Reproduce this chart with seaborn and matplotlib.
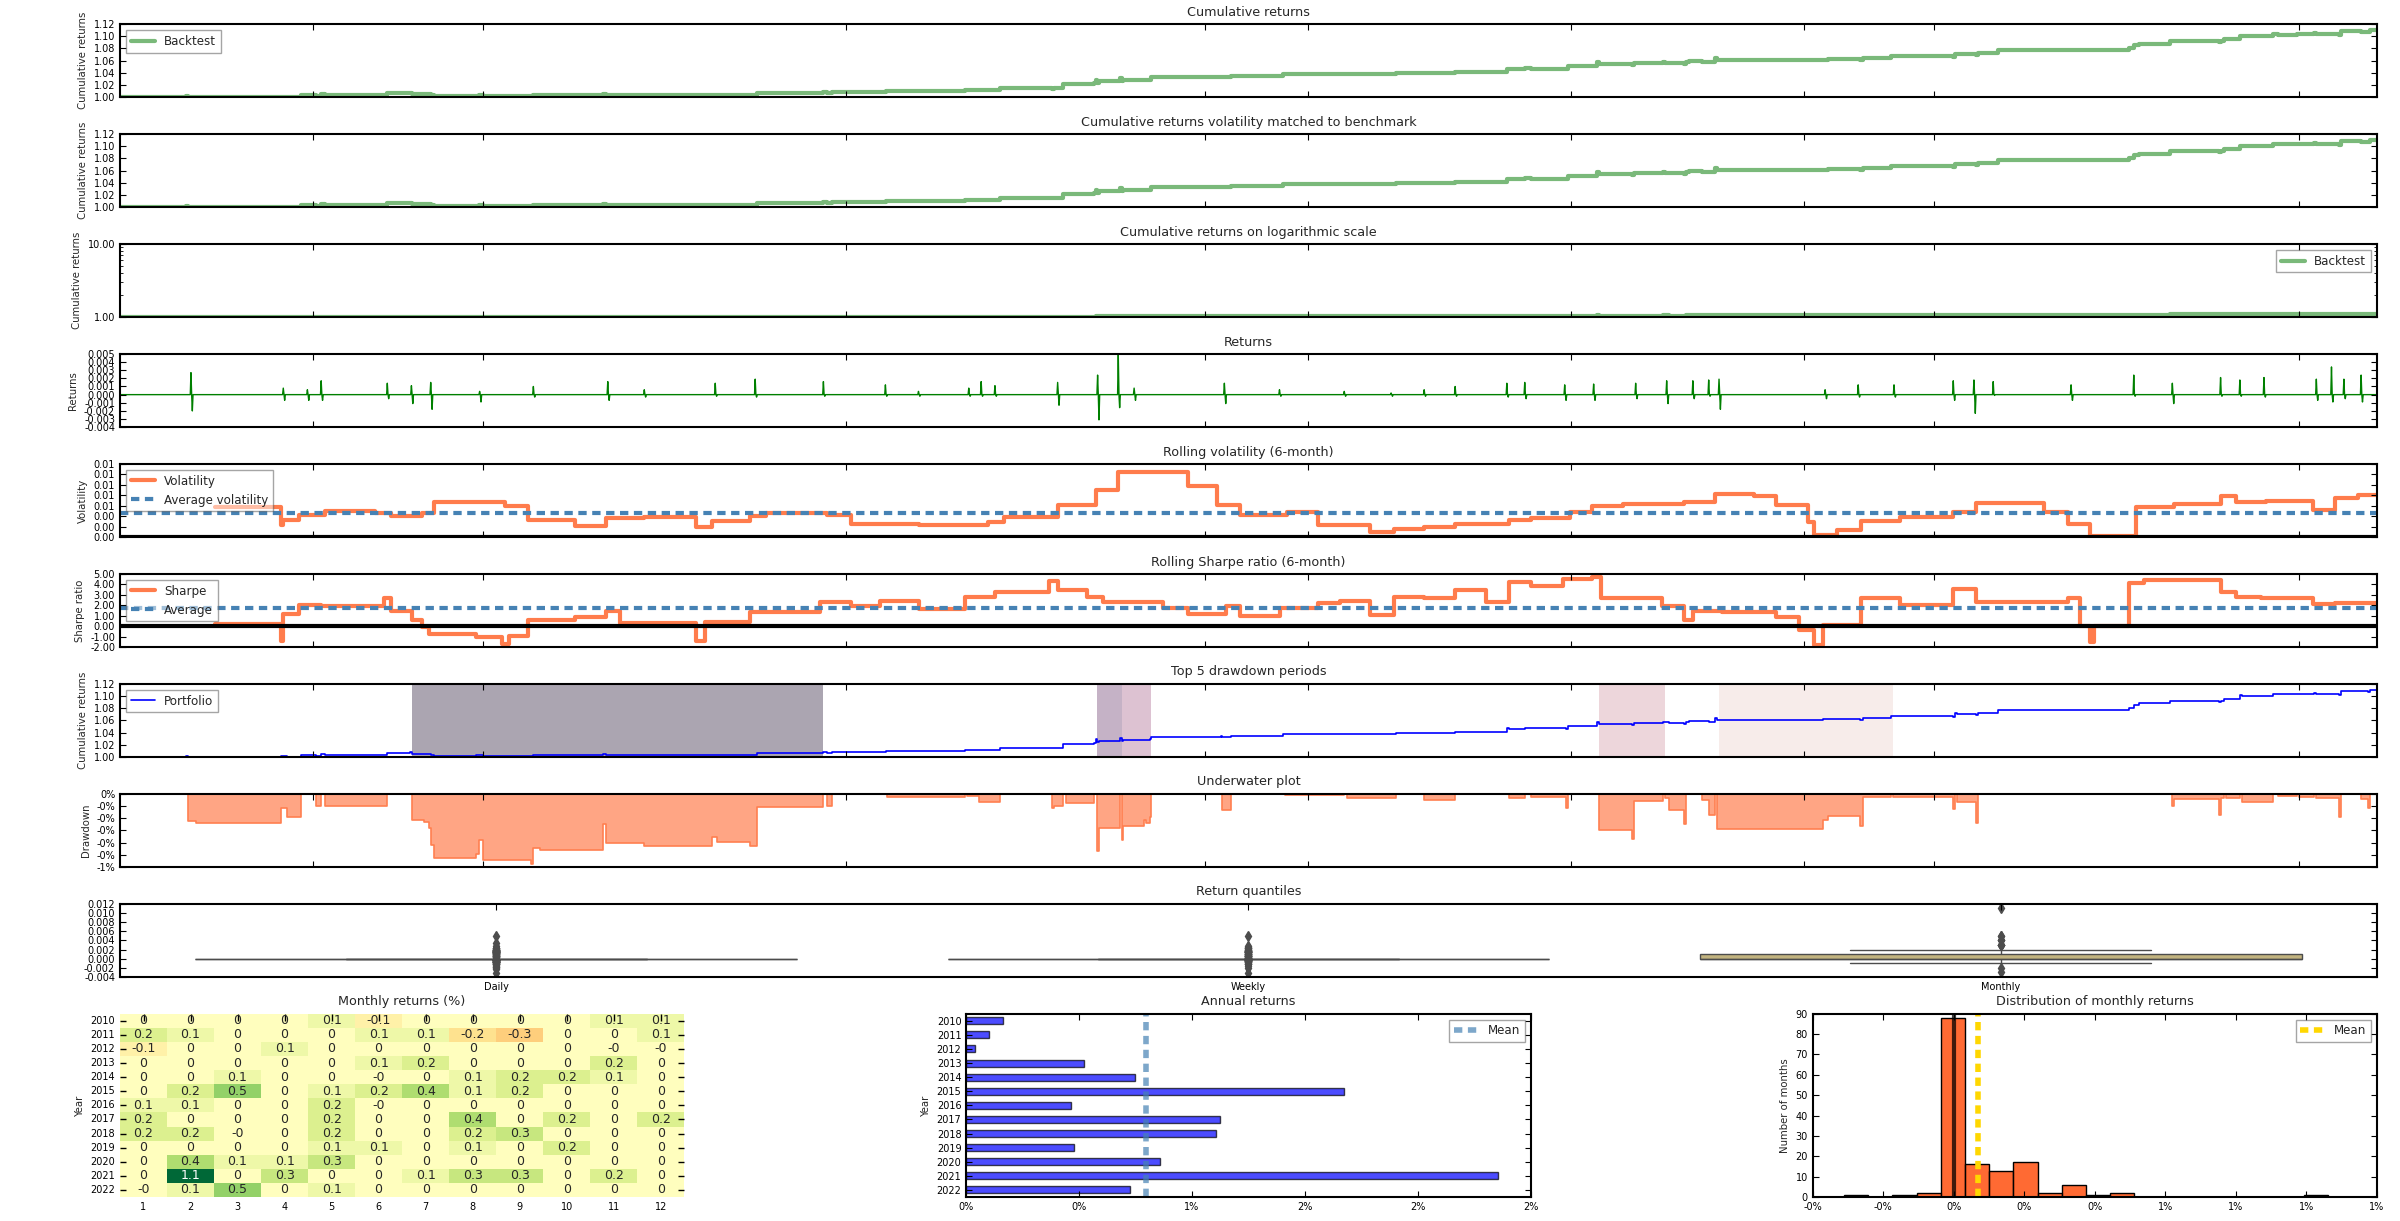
import numpy as np
import pandas as pd
import matplotlib
matplotlib.use('Agg')
import matplotlib.pyplot as plt
from matplotlib.gridspec import GridSpec
from matplotlib.ticker import FuncFormatter, FormatStrFormatter, NullFormatter
import seaborn as sns

# ---------------------------------------------------------------------------
# data (time in fractional years)
# ---------------------------------------------------------------------------
T_START, T_END = 2010.0, 2023.0
XTICKS = [2011.11, 2012.09, 2014.18, 2016.25, 2016.84, 2018.36, 2019.70, 2020.45, 2022.55]

# cumulative returns, step values (value holds until next time)
CUM_T = [2010.00, 2010.38, 2010.39, 2010.44, 2010.93, 2010.96, 2011.04, 2011.13, 2011.16, 2011.18,
         2011.54, 2011.67, 2011.68, 2011.75, 2011.78, 2011.79, 2011.81, 2012.05, 2012.07, 2012.09,
         2012.37, 2012.38, 2012.42, 2012.78, 2012.80, 2013.02, 2013.41, 2013.44, 2013.63, 2013.67,
         2014.05, 2014.07, 2014.10, 2014.41, 2014.42, 2014.87, 2014.88, 2014.95, 2015.07, 2015.37,
         2015.38, 2015.43, 2015.45, 2015.61, 2015.62, 2015.63, 2015.64, 2015.76, 2015.77, 2015.78,
         2015.90, 2015.91, 2015.93, 2015.94, 2016.34, 2016.35, 2016.40, 2016.70, 2016.71, 2017.05,
         2017.07, 2017.35, 2017.50, 2017.51, 2017.69, 2017.99, 2018.00, 2018.09, 2018.13, 2018.33,
         2018.34, 2018.51, 2018.52, 2018.71, 2018.72, 2018.89, 2018.90, 2018.92, 2019.01, 2019.02,
         2019.04, 2019.11, 2019.15, 2019.19, 2019.20, 2019.81, 2019.84, 2020.02, 2020.04, 2020.20,
         2020.21, 2020.56, 2020.57, 2020.58, 2020.69, 2020.70, 2020.82, 2021.57, 2021.60, 2021.63,
         2021.81, 2021.82, 2021.83, 2022.09, 2022.10, 2022.12, 2022.13, 2022.21, 2022.22, 2022.40,
         2022.43, 2022.54, 2022.55, 2022.64, 2022.65, 2022.78, 2022.79, 2022.91, 2022.95, 2022.96,
         2023.00]
CUM_V = [1.0000, 1.0024, 1.0002, 1.0000, 1.0012, 1.0005, 1.0030, 1.0020, 1.0050, 1.0040,
         1.0070, 1.0078, 1.0056, 1.0055, 1.0050, 1.0036, 1.0025, 1.0028, 1.0040, 1.0023,
         1.0020, 1.0033, 1.0032, 1.0053, 1.0037, 1.0035, 1.0042, 1.0038, 1.0035, 1.0067,
         1.0085, 1.0075, 1.0090, 1.0100, 1.0097, 1.0122, 1.0120, 1.0115, 1.0156, 1.0144,
         1.0146, 1.0220, 1.0212, 1.0233, 1.0290, 1.0242, 1.0261, 1.0310, 1.0271, 1.0283,
         1.0288, 1.0285, 1.0290, 1.0333, 1.0340, 1.0326, 1.0345, 1.0384, 1.0383, 1.0386,
         1.0382, 1.0400, 1.0402, 1.0397, 1.0417, 1.0470, 1.0466, 1.0472, 1.0469, 1.0460,
         1.0510, 1.0570, 1.0539, 1.0531, 1.0564, 1.0572, 1.0568, 1.0558, 1.0546, 1.0575,
         1.0590, 1.0585, 1.0572, 1.0640, 1.0609, 1.0617, 1.0621, 1.0612, 1.0637, 1.0672,
         1.0669, 1.0659, 1.0715, 1.0708, 1.0689, 1.0720, 1.0767, 1.0800, 1.0860, 1.0880,
         1.0925, 1.0914, 1.0920, 1.0906, 1.0921, 1.0956, 1.0952, 1.1010, 1.1003, 1.1030,
         1.1028, 1.1040, 1.1037, 1.1045, 1.1041, 1.1024, 1.1080, 1.1075, 1.1067, 1.1100,
         1.1100]

# daily return spikes: time, up move, following down move
RET_T = [2010.41, 2010.94, 2011.08, 2011.16, 2011.54, 2011.68, 2011.79, 2012.07, 2012.38, 2012.81,
         2013.02, 2013.43, 2013.66, 2014.05, 2014.41, 2014.60, 2014.89, 2014.96, 2015.04, 2015.40,
         2015.63, 2015.75, 2015.84, 2016.36, 2016.68, 2017.05, 2017.32, 2017.51, 2017.69, 2017.99,
         2018.09, 2018.32, 2018.49, 2018.73, 2018.91, 2019.06, 2019.15, 2019.21, 2019.82, 2020.01,
         2020.22, 2020.56, 2020.68, 2020.79, 2021.24, 2021.60, 2021.82, 2022.10, 2022.21, 2022.35,
         2022.65, 2022.74, 2022.81, 2022.91]
RET_UP = [0.0027, 0.0008, 0.0006, 0.0017, 0.0014, 0.0011, 0.0015, 0.0004, 0.0010, 0.0016,
          0.0006, 0.0014, 0.0019, 0.0016, 0.0012, 0.0004, 0.0008, 0.0016, 0.0011, 0.0015,
          0.0024, 0.0049, 0.0008, 0.0014, 0.0006, 0.0004, 0.0002, 0.0006, 0.0010, 0.0014,
          0.0015, 0.0012, 0.0013, 0.0014, 0.0017, 0.0017, 0.0018, 0.0019, 0.0006, 0.0012,
          0.0012, 0.0017, 0.0018, 0.0016, 0.0012, 0.0024, 0.0014, 0.0021, 0.0018, 0.0021,
          0.0019, 0.0034, 0.0019, 0.0024]
RET_DN = [0.0020, 0.0007, 0.0007, 0.0007, 0.0005, 0.0011, 0.0018, 0.0009, 0.0003, 0.0007,
          0.0003, 0.0002, 0.0003, 0.0002, 0.0002, 0.0002, 0.0002, 0.0002, 0.0002, 0.0013,
          0.0031, 0.0016, 0.0007, 0.0011, 0.0002, 0.0002, 0.0002, 0.0002, 0.0002, 0.0003,
          0.0005, 0.0007, 0.0007, 0.0005, 0.0011, 0.0005, 0.0002, 0.0018, 0.0005, 0.0003,
          0.0003, 0.0007, 0.0023, 0.0001, 0.0007, 0.0002, 0.0011, 0.0002, 0.0002, 0.0003,
          0.0007, 0.0009, 0.0005, 0.0009]

# rolling volatility (6-month), step values
VOL_T = [2010.55, 2010.93, 2010.94, 2011.03, 2011.18, 2011.47, 2011.56, 2011.74, 2011.81, 2012.22,
         2012.35, 2012.62, 2012.80, 2013.02, 2013.32, 2013.41, 2013.63, 2013.72, 2014.07, 2014.21,
         2014.60, 2015.00, 2015.09, 2015.40, 2015.62, 2015.75, 2016.15, 2016.32, 2016.45, 2016.72,
         2016.90, 2017.20, 2017.34, 2017.51, 2017.69, 2018.00, 2018.13, 2018.35, 2018.48, 2018.66,
         2019.01, 2019.19, 2019.41, 2019.54, 2019.72, 2019.76, 2019.89, 2020.03, 2020.25, 2020.56,
         2020.69, 2021.08, 2021.22, 2021.35, 2021.61, 2021.83, 2022.10, 2022.19, 2022.36, 2022.63,
         2022.76, 2022.89, 2023.00]
VOL_V = [0.0057, 0.0023, 0.0033, 0.0042, 0.0050, 0.0046, 0.0041, 0.0046, 0.0067, 0.0059,
         0.0033, 0.0021, 0.0036, 0.0038, 0.0020, 0.0031, 0.0041, 0.0046, 0.0042, 0.0026,
         0.0023, 0.0029, 0.0038, 0.0062, 0.0091, 0.0125, 0.0098, 0.0062, 0.0043, 0.0049,
         0.0024, 0.0010, 0.0016, 0.0020, 0.0025, 0.0033, 0.0036, 0.0048, 0.0060, 0.0063,
         0.0068, 0.0083, 0.0078, 0.0062, 0.0029, 0.0005, 0.0014, 0.0031, 0.0039, 0.0048,
         0.0065, 0.0048, 0.0025, 0.0002, 0.0057, 0.0064, 0.0078, 0.0068, 0.0070, 0.0052,
         0.0075, 0.0081, 0.0081]
AVG_VOL = 0.0047

# rolling Sharpe ratio (6-month), step values
SHARPE_T = [2010.55, 2010.93, 2010.94, 2011.03, 2011.16, 2011.52, 2011.56, 2011.68, 2011.74, 2011.78,
            2012.05, 2012.20, 2012.24, 2012.35, 2012.62, 2012.80, 2012.88, 2013.32, 2013.37, 2013.63,
            2014.03, 2014.21, 2014.38, 2014.60, 2014.87, 2015.04, 2015.35, 2015.40, 2015.57, 2015.66,
            2016.01, 2016.15, 2016.37, 2016.45, 2016.68, 2016.90, 2017.03, 2017.20, 2017.34, 2017.51,
            2017.69, 2017.87, 2018.00, 2018.13, 2018.31, 2018.48, 2018.53, 2018.88, 2019.01, 2019.06,
            2019.23, 2019.54, 2019.67, 2019.76, 2019.81, 2020.03, 2020.25, 2020.56, 2020.69, 2021.22,
            2021.29, 2021.35, 2021.37, 2021.57, 2021.66, 2022.10, 2022.19, 2022.33, 2022.63, 2022.76,
            2023.00]
SHARPE_V = [0.2, -1.4, 1.2, 2.0, 1.9, 2.7, 1.5, 0.6, -0.1, -0.7,
            -1.0, -1.7, -0.9, 0.6, 0.9, 1.5, 0.3, -1.4, 0.4, 1.4,
            2.3, 1.9, 2.4, 1.6, 2.8, 3.3, 4.3, 3.5, 2.8, 2.3,
            1.7, 1.2, 1.9, 1.0, 1.7, 2.2, 2.4, 1.1, 2.8, 2.7,
            3.5, 2.3, 4.2, 3.8, 4.5, 4.7, 2.7, 1.9, 0.6, 1.5,
            1.4, 0.9, -0.4, -1.8, 0.1, 2.7, 2.0, 3.6, 2.3, 2.7,
            0.0, -1.5, 0.0, 4.1, 4.4, 3.3, 2.8, 2.7, 2.1, 2.2,
            2.2]
AVG_SHARPE = 1.76

# top 5 drawdown periods (peak, recovery)
DD_PEAK = [2011.68, 2015.63, 2015.77, 2018.52, 2019.21]
DD_RECOVERY = [2014.05, 2015.77, 2015.94, 2018.90, 2020.21]

# monthly returns (%) table
YEARS = list(range(2010, 2023))
MONTHS = list(range(1, 13))
MONTHLY_PCT = [
    [0, 0, 0, 0, 0.1, -0.1, 0, 0, 0, 0, 0.1, 0.1],
    [0.2, 0.1, 0, 0, 0, 0.1, 0.1, -0.2, -0.3, 0, 0, 0.1],
    [-0.1, 0, 0, 0.1, 0, 0, 0, 0, 0, 0, -0.0, -0.0],
    [0, 0, 0, 0, 0, 0.1, 0.2, 0, 0, 0, 0.2, 0],
    [0, 0, 0.1, 0, 0, -0.0, 0, 0.1, 0.2, 0.2, 0.1, 0],
    [0, 0.2, 0.5, 0, 0.1, 0.2, 0.4, 0.1, 0.2, 0, 0, 0],
    [0.1, 0.1, 0, 0, 0.2, -0.0, 0, 0, 0, 0, 0, 0],
    [0.2, 0, 0, 0, 0.2, 0, 0, 0.4, 0, 0.2, 0, 0.2],
    [0.2, 0.2, -0.0, 0, 0.2, 0, 0, 0.2, 0.3, 0, 0, 0],
    [0, 0, 0, 0, 0.1, 0.1, 0, 0.1, 0, 0.2, 0, 0],
    [0, 0.4, 0.1, 0.1, 0.3, 0, 0, 0, 0, 0, 0, 0],
    [0, 1.1, 0, 0.3, 0, 0, 0.1, 0.3, 0.3, 0, 0.2, 0],
    [-0.0, 0.1, 0.5, 0, 0.1, 0, 0, 0, 0, 0, 0, 0],
]

# annual returns
ANNUAL_RET = [0.00163, 0.00099, 0.00040, 0.00522, 0.00748, 0.01673, 0.00462,
              0.01125, 0.01105, 0.00476, 0.00859, 0.02357, 0.00724]

# distribution of monthly returns (histogram counts, 20 bins)
HIST_RANGE = (-0.00311, 0.01061)
HIST_COUNTS = [1, 0, 1, 2, 88, 16, 13, 17, 2, 6, 1, 2, 0, 0, 0, 0, 0, 0, 0, 1]
MONTHLY_MEAN = 0.0007

# ---------------------------------------------------------------------------
sns.set_style('white')
plt.rcParams.update({
    'font.family': ['DejaVu Sans'],
    'font.size': 7,
    'axes.titlesize': 9.2,
    'axes.labelsize': 7.3,
    'xtick.labelsize': 7,
    'ytick.labelsize': 7,
    'legend.fontsize': 8.6,
    'axes.edgecolor': 'black',
    'axes.linewidth': 1.5,
    'axes.axisbelow': False,
    'xtick.direction': 'in',
    'ytick.direction': 'in',
    'xtick.top': True,
    'xtick.bottom': True,
    'ytick.left': True,
    'ytick.right': True,
    'xtick.major.size': 4,
    'ytick.major.size': 4,
    'xtick.color': 'black',
    'ytick.color': 'black',
    'legend.fancybox': False,
    'legend.framealpha': 0.5,
    'legend.edgecolor': '0.3',
    'lines.scale_dashes': False,
    'lines.dashed_pattern': (6, 4),
})


def pct(x, pos):
    return '%.0f%%' % round(x * 100, 6)


def time_axis(ax, title, ylabel):
    ax.set_xlim(T_START, T_END)
    ax.set_xticks(XTICKS)
    ax.tick_params(axis='x', labelbottom=False)
    ax.set_title(title)
    ax.set_ylabel(ylabel)


fig = plt.figure(figsize=(24, 12.21), dpi=100)
gs = GridSpec(11, 3, figure=fig, left=0.05, right=0.9904, top=0.98034, bottom=0.01966,
              wspace=0.5, hspace=0.5)

cum_t = np.array(CUM_T)
cum_v = np.array(CUM_V)
drawdown = cum_v / np.maximum.accumulate(cum_v) - 1

# --- cumulative returns panels
for row, title in enumerate(['Cumulative returns',
                             'Cumulative returns volatility matched to benchmark',
                             'Cumulative returns on logarithmic scale']):
    ax = fig.add_subplot(gs[row, :])
    ax.plot(cum_t, cum_v, drawstyle='steps-post', color='forestgreen', alpha=0.6, lw=3,
            label='Backtest')
    ax.axhline(1.0, linestyle='--', color='black', lw=2)
    time_axis(ax, title, 'Cumulative returns')
    if row == 2:
        ax.set_yscale('log')
        ax.set_ylim(1.0, 10.0)
        ax.set_yticks([1.0, 10.0])
        ax.yaxis.set_major_formatter(FormatStrFormatter('%.2f'))
        ax.yaxis.set_minor_formatter(NullFormatter())
        ax.tick_params(axis='y', which='minor', direction='in', length=2, right=True, left=True)
        ax.legend(loc='upper right')
    else:
        ax.set_ylim(1.0, 1.12)
        ax.set_yticks(np.arange(1.0, 1.121, 0.02))
        ax.yaxis.set_major_formatter(FormatStrFormatter('%.2f'))
        if row == 0:
            ax.legend(loc='upper left')

# --- daily returns
n_days = int((T_END - T_START) * 252)
daily = np.zeros(n_days)
for t, up, dn in zip(RET_T, RET_UP, RET_DN):
    i = int(round((t - T_START) * 252))
    daily[i] = up
    daily[i + 2] = -dn
day_t = T_START + np.arange(n_days) / 252.0

ax = fig.add_subplot(gs[3, :])
ax.plot(day_t, daily, color='green', lw=1)
time_axis(ax, 'Returns', 'Returns')
ax.set_ylim(-0.004, 0.005)
ax.set_yticks(np.arange(-0.004, 0.0051, 0.001))
ax.yaxis.set_major_formatter(FormatStrFormatter('%.3f'))

# --- rolling volatility
ax = fig.add_subplot(gs[4, :])
ax.plot(VOL_T, VOL_V, drawstyle='steps-post', color='orangered', alpha=0.7, lw=3, label='Volatility')
ax.axhline(AVG_VOL, color='steelblue', linestyle='--', lw=3, label='Average volatility')
ax.axhline(0.0, color='black', lw=3)
time_axis(ax, 'Rolling volatility (6-month)', 'Volatility')
ax.set_ylim(0, 0.014)
ax.set_yticks(np.arange(0, 0.0141, 0.002))
ax.yaxis.set_major_formatter(FormatStrFormatter('%.2f'))
ax.legend(loc='upper left')

# --- rolling sharpe
ax = fig.add_subplot(gs[5, :])
ax.plot(SHARPE_T, SHARPE_V, drawstyle='steps-post', color='orangered', alpha=0.7, lw=3, label='Sharpe')
ax.axhline(AVG_SHARPE, color='steelblue', linestyle='--', lw=3, label='Average')
ax.axhline(0.0, color='black', lw=3)
time_axis(ax, 'Rolling Sharpe ratio (6-month)', 'Sharpe ratio')
ax.set_ylim(-2, 5)
ax.set_yticks(np.arange(-2, 5.1, 1))
ax.yaxis.set_major_formatter(FormatStrFormatter('%.2f'))
ax.legend(loc='upper left')

# --- top 5 drawdown periods
ax = fig.add_subplot(gs[6, :])
ax.plot(cum_t, cum_v, drawstyle='steps-post', color='blue', lw=1.2, label='Portfolio')
colors = sns.cubehelix_palette(len(DD_PEAK))[::-1]
for i, (peak, recovery) in enumerate(zip(DD_PEAK, DD_RECOVERY)):
    ax.axvspan(peak, recovery, alpha=0.4, color=colors[i], lw=0)
time_axis(ax, 'Top 5 drawdown periods', 'Cumulative returns')
ax.set_ylim(1.0, 1.12)
ax.set_yticks(np.arange(1.0, 1.121, 0.02))
ax.yaxis.set_major_formatter(FormatStrFormatter('%.2f'))
ax.legend(loc='upper left')

# --- underwater
ax = fig.add_subplot(gs[7, :])
ax.fill_between(cum_t, drawdown, 0, step='post', color='coral', alpha=0.7, lw=0)
ax.plot(cum_t, drawdown, drawstyle='steps-post', color='coral', lw=1.2)
time_axis(ax, 'Underwater plot', 'Drawdown')
ax.set_ylim(-0.006, 0)
ax.set_yticks(np.arange(-0.006, 0.0001, 0.001))
ax.yaxis.set_major_formatter(FuncFormatter(pct))

# --- return quantiles
weekly = daily[: n_days // 5 * 5].reshape(-1, 5).sum(axis=1)
monthly = np.array(MONTHLY_PCT).ravel() / 100.0
ax = fig.add_subplot(gs[8, :])
sns.boxplot(data=[daily, weekly, monthly], palette=['#4c72B0', '#55A868', '#CCB974'],
            flierprops={'marker': 'd', 'markerfacecolor': '0.3', 'markeredgecolor': '0.3',
                        'markersize': 5},
            ax=ax)
ax.set_xticks([0, 1, 2])
ax.set_xticklabels(['Daily', 'Weekly', 'Monthly'])
ax.set_title('Return quantiles')
ax.set_ylim(-0.004, 0.012)
ax.set_yticks(np.arange(-0.004, 0.0121, 0.002))
ax.yaxis.set_major_formatter(FormatStrFormatter('%.3f'))
ax.tick_params(axis='x', top=True, bottom=False)

# --- monthly returns heatmap
ax = fig.add_subplot(gs[9:11, 0])
table = pd.DataFrame(MONTHLY_PCT, index=YEARS, columns=MONTHS)
sns.heatmap(table, annot=True, annot_kws={'size': 9}, alpha=1.0, center=0.0, cbar=False,
            cmap='RdYlGn', ax=ax)
ax.set_axisbelow(False)
ax.set_title('Monthly returns (%)')
ax.set_ylabel('Year')
ax.set_xlabel('')
ax.tick_params(axis='x', bottom=False, top=True, direction='in', length=5, width=1)
ax.tick_params(axis='y', left=True, right=True, direction='in', length=4, width=1, rotation=0)

# --- annual returns
ax = fig.add_subplot(gs[9:11, 1])
sns.barplot(x=ANNUAL_RET, y=[str(y) for y in YEARS], orient='h', color='blue', alpha=0.7,
            width=0.5, edgecolor='black', linewidth=1, saturation=1, ax=ax)
mean_line = ax.axvline(np.mean(ANNUAL_RET), color='steelblue', linestyle='--', lw=4, alpha=0.7,
                       label='Mean')
ax.set_xlim(0, 0.025)
ax.set_xticks(np.arange(0, 0.0251, 0.005))
ax.xaxis.set_major_formatter(FuncFormatter(pct))
ax.set_title('Annual returns')
ax.set_ylabel('Year')
ax.set_xlabel('')
ax.legend(handles=[mean_line], loc='upper right')

# --- distribution of monthly returns
ax = fig.add_subplot(gs[9:11, 2])
bin_w = (HIST_RANGE[1] - HIST_RANGE[0]) / len(HIST_COUNTS)
hist_df = pd.DataFrame({'ret': HIST_RANGE[0] + bin_w * (np.arange(len(HIST_COUNTS)) + 0.5),
                        'n': HIST_COUNTS})
sns.histplot(data=hist_df, x='ret', weights='n', bins=len(HIST_COUNTS), binrange=HIST_RANGE,
             color='orangered', alpha=0.8, edgecolor='black', linewidth=1, ax=ax)
ax.axvline(0.0, color='black', linestyle='-', lw=3, alpha=0.75)
mean_line = ax.axvline(MONTHLY_MEAN, color='gold', linestyle='--', lw=4, alpha=1.0, label='Mean')
ax.set_xlim(-0.004, 0.012)
ax.set_xticks(np.arange(-0.004, 0.0121, 0.002))
ax.xaxis.set_major_formatter(FuncFormatter(pct))
ax.set_ylim(0, 90)
ax.set_yticks(np.arange(0, 91, 10))
ax.set_title('Distribution of monthly returns')
ax.set_ylabel('Number of months')
ax.set_xlabel('')
ax.legend(handles=[mean_line], loc='upper right')

fig.savefig('out.png', dpi=100)
